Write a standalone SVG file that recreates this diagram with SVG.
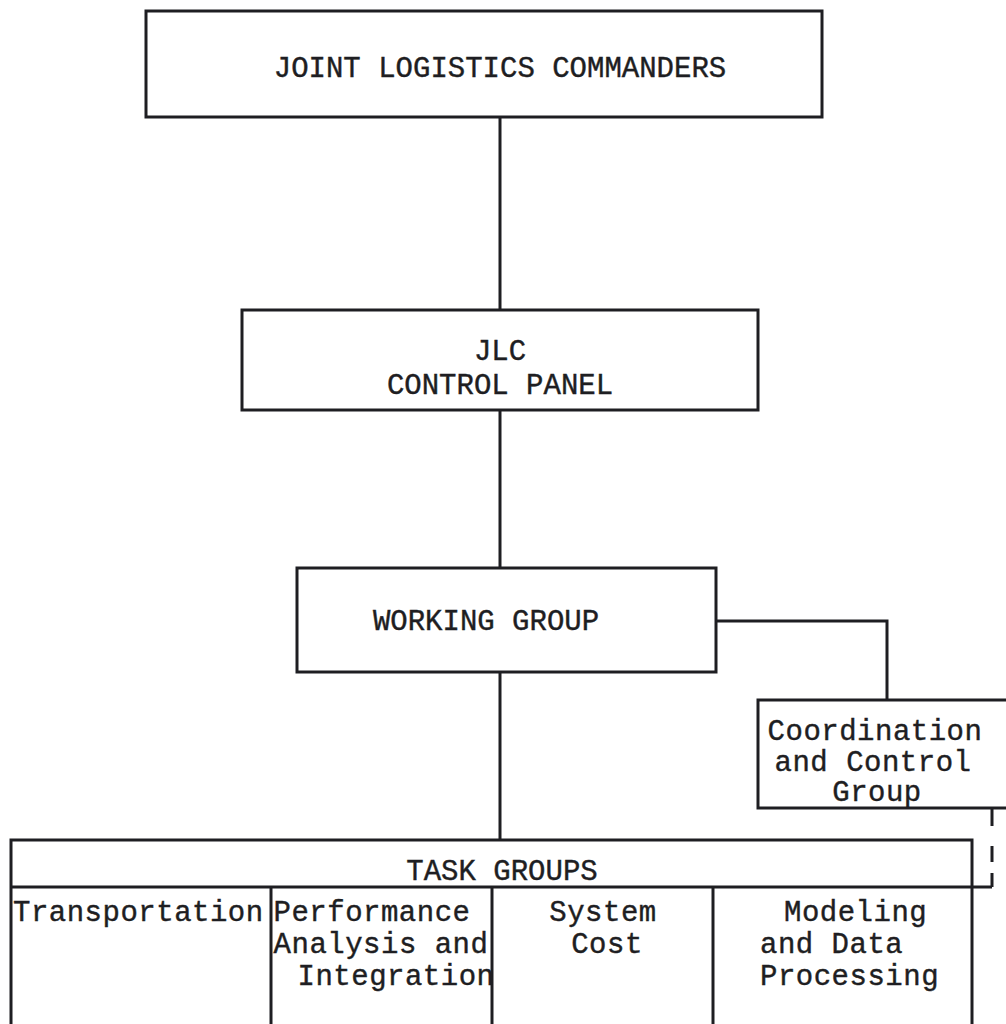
<svg xmlns="http://www.w3.org/2000/svg" width="1006" height="1024" viewBox="0 0 1006 1024">
<style>
.box{fill:#fff;stroke:#1e1e22;stroke-width:3}
.ln{fill:none;stroke:#1e1e22;stroke-width:3}
.t{font-family:"Liberation Mono","Courier New",monospace;font-size:29px;fill:#1e1e22;stroke:#1e1e22;stroke-width:0.4}
.m{letter-spacing:0.5px}
.c{text-anchor:middle}
</style>
<rect width="1006" height="1024" fill="#fff"/>
<g id="connectors">
<path class="ln" d="M500 117 V310"/>
<path class="ln" d="M500 410 V568"/>
<path class="ln" d="M500 672 V840"/>
<path class="ln" d="M716 621 H887 V700"/>
<path class="ln" d="M992 808 V826 M992 846 V862 M992 873 V887"/>
</g>
<g id="jlc">
<rect class="box" x="146" y="11" width="676" height="106"/>
<text class="t c" x="500" y="77">JOINT LOGISTICS COMMANDERS</text>
</g>
<g id="control-panel">
<rect class="box" x="242" y="310" width="516" height="100"/>
<text class="t c" x="500" y="360">JLC</text>
<text class="t c" x="500" y="394">CONTROL PANEL</text>
</g>
<g id="working-group">
<rect class="box" x="297" y="568" width="419" height="104"/>
<text class="t c" x="486" y="630">WORKING GROUP</text>
</g>
<g id="coordination">
<rect class="box" x="758" y="700" width="260" height="108"/>
<text class="t c m" x="875" y="740">Coordination</text>
<text class="t c m" x="873" y="771">and Control</text>
<text class="t c m" x="877" y="801">Group</text>
</g>
<g id="task-groups">
<rect class="box" x="11" y="840" width="961" height="200"/>
<path class="ln" d="M11 887 H992"/>
<text class="t c" x="502" y="880">TASK GROUPS</text>
</g>
<g id="transportation">
<path class="ln" d="M271 887 V1024"/>
<text class="t m" x="13" y="921">Transportation</text>
</g>
<g id="performance">
<path class="ln" d="M492 887 V1024"/>
<text class="t c m" x="372" y="921">Performance</text>
<text class="t c m" x="381" y="953">Analysis and</text>
<text class="t c m" x="396" y="985">Integration</text>
</g>
<g id="system-cost">
<path class="ln" d="M713 887 V1024"/>
<text class="t c m" x="603" y="921">System</text>
<text class="t c m" x="607" y="953">Cost</text>
</g>
<g id="modeling">
<text class="t m" x="784" y="921">Modeling</text>
<text class="t m" x="760" y="953">and Data</text>
<text class="t m" x="760" y="985">Processing</text>
</g>
</svg>
